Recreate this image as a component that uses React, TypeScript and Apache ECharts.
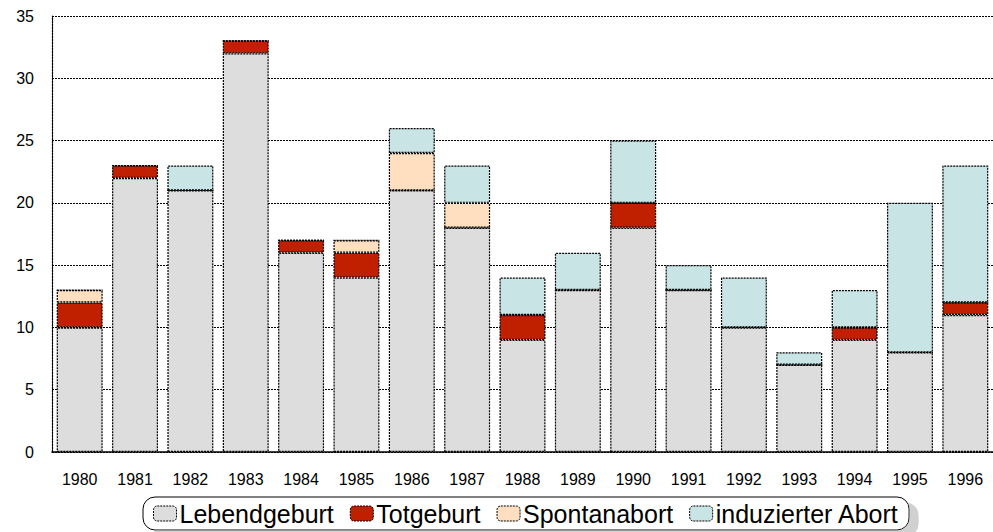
import React, { useEffect, useRef } from "react";
import * as echarts from "echarts";

const categories = ["1980","1981","1982","1983","1984","1985","1986","1987","1988","1989","1990","1991","1992","1993","1994","1995","1996"];
const lebendgeburt = [10, 22, 21, 32, 16, 14, 21, 18, 9, 13, 18, 13, 10, 7, 9, 8, 11];
const totgeburt = [2, 1, 0, 1, 1, 2, 0, 0, 2, 0, 2, 0, 0, 0, 1, 0, 1];
const spontanabort = [1, 0, 0, 0, 0, 1, 3, 2, 0, 0, 0, 0, 0, 0, 0, 0, 0];
const induzierterAbort = [0, 0, 2, 0, 0, 0, 2, 3, 3, 3, 5, 2, 4, 1, 3, 12, 11];
const yTicks = { min: 0, max: 35, interval: 5 };

const seriesDefs = [
  { name: "Lebendgeburt", data: lebendgeburt, color: "#dddddd" },
  { name: "Totgeburt", data: totgeburt, color: "#c02000" },
  { name: "Spontanabort", data: spontanabort, color: "#ffdfc0" },
  { name: "induzierter Abort", data: induzierterAbort, color: "#c8e4e4" },
];

export default function App() {
  const ref = useRef<HTMLDivElement>(null);
  useEffect(() => {
    if (!ref.current) return;
    const chart = echarts.init(ref.current, null, { renderer: "svg" });
    const font = "Liberation Sans, Arial, sans-serif";
    chart.setOption({
      animation: false,
      textStyle: { fontFamily: font, color: "#000" },
      grid: { left: 52, right: 0, top: 16, bottom: 80, containLabel: false },
      xAxis: {
        type: "category",
        data: categories,
        axisLine: { show: true, lineStyle: { color: "#000", width: 1.5 } },
        axisTick: { show: false },
        axisLabel: { fontSize: 16, color: "#000", margin: 19, fontFamily: font },
      },
      yAxis: {
        type: "value",
        min: yTicks.min,
        max: yTicks.max,
        interval: yTicks.interval,
        axisLine: { show: true, lineStyle: { color: "#000", type: [2, 1], width: 1.2 } },
        axisTick: { show: false },
        axisLabel: { fontSize: 16, color: "#000", margin: 18, fontFamily: font },
        splitLine: { show: true, lineStyle: { color: "#000", type: [2, 1], width: 1.2 } },
      },
      legend: {
        left: 143,
        top: 497,
        orient: "horizontal",
        itemWidth: 23,
        itemHeight: 15,
        itemGap: 16,
        padding: [4, 10],
        borderColor: "#000",
        borderWidth: 1,
        borderRadius: 12,
        backgroundColor: "#fff",
        shadowColor: "#d0d0d0",
        shadowBlur: 0,
        shadowOffsetX: 9,
        shadowOffsetY: 6,
        textStyle: { fontSize: 25, color: "#000", fontFamily: font, padding: [0, 0, 0, -2] },
        data: seriesDefs.map((s) => ({
          name: s.name,
          itemStyle: { color: s.color, borderColor: "#000", borderWidth: 1, borderType: [2, 1] },
        })),
      },
      series: seriesDefs.map((s) => ({
        name: s.name,
        type: "bar",
        stack: "total",
        data: s.data,
        barCategoryGap: "17%",
        itemStyle: { color: s.color, borderColor: "#000", borderWidth: 1.2, borderType: [2, 1] },
      })),
    });
    return () => chart.dispose();
  }, []);
  return (
    <div
      ref={ref}
      style={{ position: "fixed", left: 0, top: 0, width: 993, height: 532, background: "#fff" }}
    />
  );
}
